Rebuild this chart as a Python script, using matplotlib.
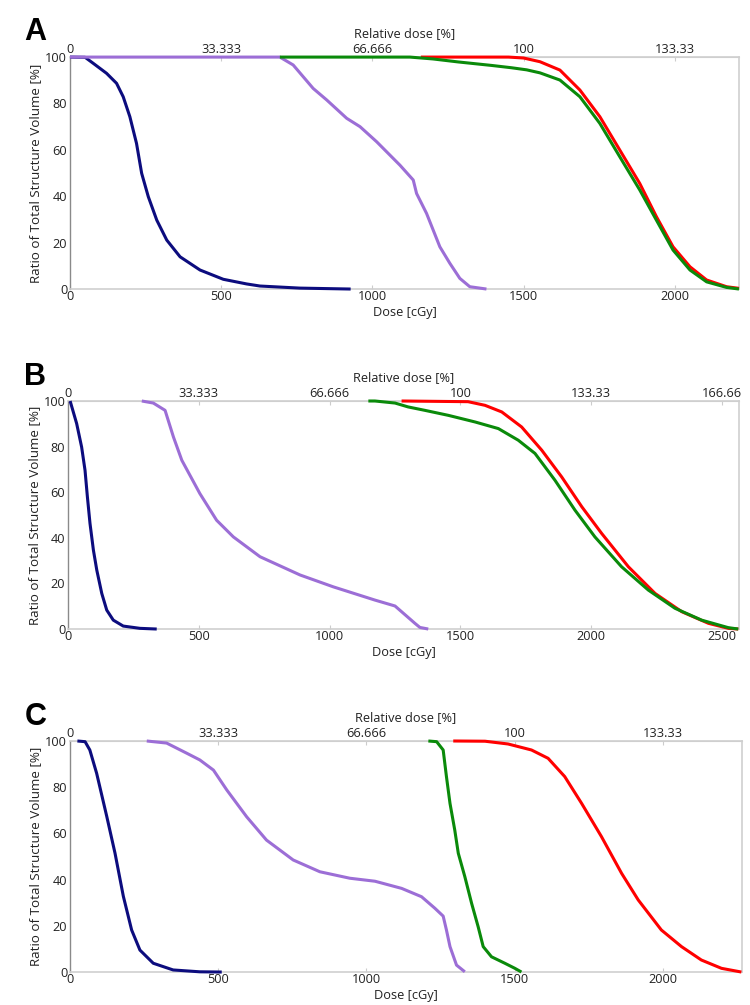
import matplotlib
matplotlib.use("Agg")
import matplotlib.pyplot as plt

plt.rcParams['font.family'] = ['Open Sans', 'DejaVu Sans']

# colours of the four structures
c_navy = '#0c0c7e'
c_purple = '#9c6ed6'
c_green = '#0a8a0a'
c_red = '#ff0000'

# ---- panel A ----
a_navy_x = [0, 50, 77, 121, 154, 176, 198, 220, 237, 259, 287, 320, 364, 430, 507, 584, 628, 760, 928]
a_navy_y = [100, 99.9, 97.3, 93.0, 88.7, 82.9, 74.3, 62.8, 49.9, 39.8, 29.7, 21.1, 13.9, 8.2, 4.2, 2.2, 1.3, 0.4, 0]
a_purple_x = [0, 694, 738, 804, 849, 915, 959, 1014, 1091, 1135, 1146, 1179, 1223, 1256, 1289, 1322, 1377]
a_purple_y = [100, 100, 96.6, 86.5, 81.5, 73.6, 70.0, 63.5, 53.4, 47.0, 41.2, 32.6, 18.2, 11.1, 4.6, 1.0, 0]
a_red_x = [1160, 1450, 1500, 1554, 1620, 1686, 1752, 1818, 1884, 1939, 1994, 2050, 2105, 2171, 2212]
a_red_y = [100, 100, 99.6, 98.0, 94.4, 85.8, 74.3, 59.9, 45.5, 31.2, 18.2, 9.6, 3.9, 1.0, 0.3]
a_green_x = [694, 1124, 1200, 1284, 1394, 1460, 1510, 1554, 1620, 1686, 1752, 1818, 1884, 1939, 1994, 2050, 2105, 2171, 2212]
a_green_y = [100, 100, 99.2, 97.9, 96.4, 95.4, 94.5, 93.2, 90.1, 82.9, 71.4, 57.0, 42.7, 29.7, 16.8, 8.2, 3.1, 0.7, 0]

# ---- panel B ----
b_navy_x = [8, 33, 52, 65, 74, 84, 97, 110, 129, 148, 173, 211, 275, 339]
b_navy_y = [100, 90.1, 79.8, 69.6, 58.0, 46.3, 34.6, 25.8, 15.6, 8.3, 3.9, 1.3, 0.3, 0]
b_purple_x = [282, 326, 371, 403, 435, 504, 568, 632, 734, 887, 1014, 1173, 1250, 1275, 1300, 1326, 1345, 1377]
b_purple_y = [100, 99.1, 95.9, 84.2, 74.0, 59.4, 47.7, 40.4, 31.7, 23.7, 18.5, 12.7, 10.1, 7.6, 5.1, 2.5, 0.7, 0]
b_red_x = [1275, 1529, 1594, 1658, 1734, 1811, 1887, 1964, 2040, 2142, 2244, 2346, 2448, 2524, 2562]
b_red_y = [100, 99.7, 98.1, 95.2, 88.6, 78.4, 66.7, 53.6, 41.9, 27.3, 15.6, 7.6, 2.5, 0.3, 0]
b_green_x = [1148, 1173, 1250, 1300, 1364, 1454, 1556, 1645, 1721, 1785, 1861, 1938, 2014, 2116, 2218, 2320, 2422, 2524, 2562]
b_green_y = [100, 100, 99.1, 97.4, 95.9, 93.7, 90.8, 87.9, 82.8, 77.0, 65.3, 52.1, 40.4, 27.3, 17.1, 9.1, 3.9, 0.6, 0]

# ---- panel C ----
c_navy_x = [25, 51, 67, 90, 124, 152, 180, 208, 236, 281, 348, 438, 512]
c_navy_y = [100, 99.7, 96.1, 86.0, 67.4, 51.4, 32.8, 18.2, 9.5, 3.8, 0.9, 0.1, 0]
c_purple_x = [259, 326, 394, 438, 484, 529, 596, 663, 753, 843, 944, 1029, 1119, 1186, 1231, 1259, 1270, 1282, 1304, 1332]
c_purple_y = [100, 99.1, 94.7, 91.8, 87.4, 78.8, 67.2, 57.1, 48.5, 43.4, 40.6, 39.3, 36.2, 32.6, 27.6, 24.2, 18.2, 11.0, 3.0, 0.1]
c_green_x = [1209, 1237, 1259, 1270, 1282, 1298, 1310, 1332, 1355, 1377, 1394, 1422, 1467, 1501, 1523]
c_green_y = [100, 99.7, 96.1, 84.6, 73.0, 61.5, 51.4, 41.3, 29.7, 19.6, 11.0, 6.6, 3.8, 1.6, 0]
c_red_x = [1293, 1400, 1478, 1557, 1613, 1669, 1726, 1793, 1861, 1917, 1995, 2063, 2130, 2198, 2265]
c_red_y = [100, 99.9, 98.7, 96.1, 92.5, 84.6, 73.0, 58.6, 42.7, 31.2, 18.2, 11.0, 5.2, 1.6, 0]

# axis ranges and tick labels
xmax = [2212, 2565, 2267]
dose_ticks = [[0, 500, 1000, 1500, 2000],
              [0, 500, 1000, 1500, 2000, 2500],
              [0, 500, 1000, 1500, 2000]]
rel_ticks = [[0, 33.333, 66.666, 100, 133.33],
             [0, 33.333, 66.666, 100, 133.33, 166.66],
             [0, 33.333, 66.666, 100, 133.33]]
rel_labels = [['0', '33.333', '66.666', '100', '133.33'],
              ['0', '33.333', '66.666', '100', '133.33', '166.66'],
              ['0', '33.333', '66.666', '100', '133.33']]
letters = ['A', 'B', 'C']
vol_ticks = [0, 20, 40, 60, 80, 100]

curves = [
    [(a_navy_x, a_navy_y, c_navy), (a_purple_x, a_purple_y, c_purple),
     (a_red_x, a_red_y, c_red), (a_green_x, a_green_y, c_green)],
    [(b_navy_x, b_navy_y, c_navy), (b_purple_x, b_purple_y, c_purple),
     (b_red_x, b_red_y, c_red), (b_green_x, b_green_y, c_green)],
    [(c_navy_x, c_navy_y, c_navy), (c_purple_x, c_purple_y, c_purple),
     (c_green_x, c_green_y, c_green), (c_red_x, c_red_y, c_red)],
]

# panel rectangles (left, bottom, width, height) in figure fraction
boxes = [(0.0933, 0.7124, 0.892, 0.2308),
         (0.0907, 0.3741, 0.8947, 0.2269),
         (0.0933, 0.0328, 0.896, 0.2299)]
letter_y = [0.968, 0.625, 0.287]

fig = plt.figure(figsize=(7.5, 10.05), dpi=100)
fs = 9.2
tc = '#222222'

for i in range(3):
    ax = fig.add_axes(boxes[i])
    for xs, ys, col in curves[i]:
        ax.plot(xs, ys, color=col, lw=2.2, clip_on=False, zorder=3,
                solid_capstyle='butt', solid_joinstyle='round')
    ax.set_xlim(0, xmax[i])
    ax.set_ylim(0, 100)
    ax.set_xticks(dose_ticks[i])
    ax.set_yticks(vol_ticks)
    ax.set_xlabel('Dose [cGy]', fontsize=fs, labelpad=2, color=tc)
    ax.set_ylabel('Ratio of Total Structure Volume [%]', fontsize=fs + 0.4, labelpad=2, color=tc)
    ax.tick_params(axis='x', direction='in', length=3, color='#cccccc', labelsize=fs, pad=1, labelcolor=tc)
    ax.tick_params(axis='y', direction='out', length=0, labelsize=fs, pad=2, labelcolor=tc)
    for s in ['top', 'right', 'bottom']:
        ax.spines[s].set_color('#cfcfcf')
        ax.spines[s].set_linewidth(1.2)
    ax.spines['left'].set_color('#8a8a8a')
    ax.spines['left'].set_linewidth(1.0)

    top = ax.secondary_xaxis('top', functions=(lambda x: x / 15.0, lambda x: x * 15.0))
    top.set_xticks(rel_ticks[i])
    top.set_xticklabels(rel_labels[i])
    top.tick_params(direction='in', length=3, color='#cccccc', labelsize=fs, pad=1, labelcolor=tc)
    top.spines['top'].set_color('#cfcfcf')
    top.set_xlabel('Relative dose [%]', fontsize=fs, labelpad=4, color=tc)

    fig.text(0.047, letter_y[i], letters[i], fontsize=22, fontweight='bold',
             family=['Liberation Sans', 'DejaVu Sans'], ha='center', va='center')

fig.savefig('out.png', dpi=100)
